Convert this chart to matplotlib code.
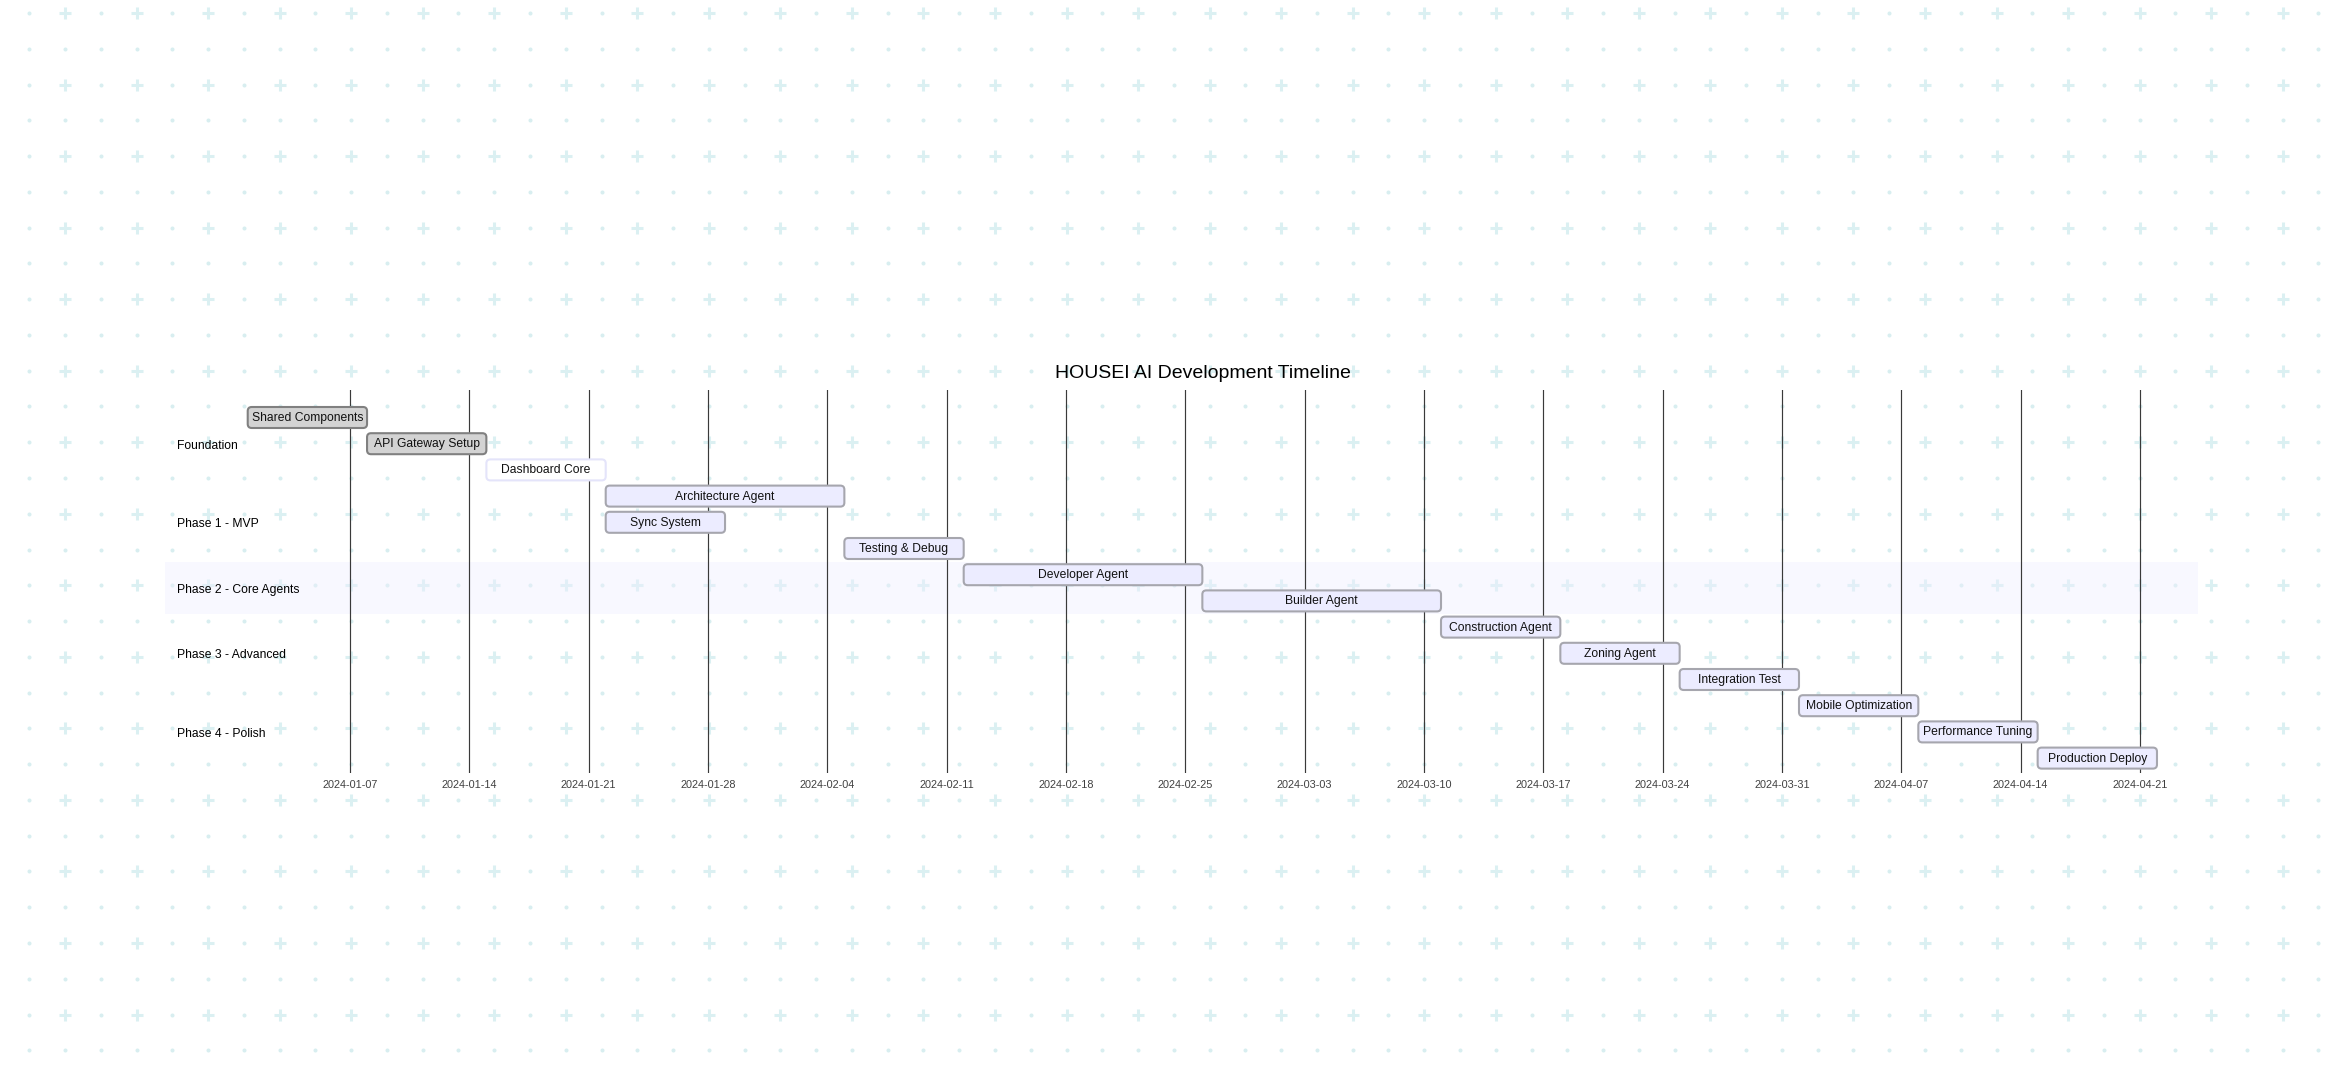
import numpy as np
import matplotlib
matplotlib.use("Agg")
import matplotlib.pyplot as plt
import matplotlib.dates as mdates
from matplotlib.patches import FancyBboxPatch
from matplotlib.transforms import blended_transform_factory
from datetime import datetime

plt.rcParams['font.family'] = ['Liberation Sans', 'DejaVu Sans']

# ---------------- data ----------------
title = "HOUSEI AI Development Timeline"
sections = ["Foundation", "Phase 1 - MVP", "Phase 2 - Core Agents",
            "Phase 3 - Advanced", "Phase 4 - Polish"]
task_names = ["Shared Components", "API Gateway Setup", "Dashboard Core",
              "Architecture Agent", "Sync System", "Testing & Debug",
              "Developer Agent", "Builder Agent",
              "Construction Agent", "Zoning Agent", "Integration Test",
              "Mobile Optimization", "Performance Tuning", "Production Deploy"]
task_section = [0, 0, 0, 1, 1, 1, 2, 2, 3, 3, 3, 4, 4, 4]
task_start = ["2024-01-01", "2024-01-08", "2024-01-15",
              "2024-01-22", "2024-01-22", "2024-02-05",
              "2024-02-12", "2024-02-26",
              "2024-03-11", "2024-03-18", "2024-03-25",
              "2024-04-01", "2024-04-08", "2024-04-15"]
task_days = [7, 7, 7, 14, 7, 7, 14, 14, 7, 7, 7, 7, 7, 7]
task_status = ["done", "done", "active", "", "", "", "", "", "", "", "", "", "", ""]
tick_labels = ["2024-01-07", "2024-01-14", "2024-01-21", "2024-01-28",
               "2024-02-04", "2024-02-11", "2024-02-18", "2024-02-25",
               "2024-03-03", "2024-03-10", "2024-03-17", "2024-03-24",
               "2024-03-31", "2024-04-07", "2024-04-14", "2024-04-21"]

# ---------------- layout ----------------
W, H, DPI = 2335, 1078, 100
PX_DAY = 17.047
ROW_PX = 26.2
ROW0_PX = 417.5
X0_PX = 350.0          # pixel of first tick
L, R, T, B = 165, 2198, 390, 773

def d2n(s):
    return mdates.date2num(datetime.fromisoformat(s))

fig = plt.figure(figsize=(W / DPI, H / DPI), dpi=DPI)
fig.patch.set_facecolor('white')

# background pattern
bg = fig.add_axes([0, 0, 1, 1], zorder=0)
bg.set_xlim(0, W)
bg.set_ylim(H, 0)
bg.axis('off')
step = 35.77
xs = 29.2 + step * np.arange(0, 66)
ys = 13.0 + step * np.arange(0, 31)
gx, gy = np.meshgrid(np.arange(len(xs)), np.arange(len(ys)))
is_plus = (gx % 2 == 1) & (gy % 2 == 0)
px_ = xs[gx]
py_ = ys[gy]
bg.plot(px_[~is_plus], py_[~is_plus], 'o', ms=2.9, mew=0, color='#d8eef0')
bg.plot(px_[is_plus], py_[is_plus], '+', ms=8.6, mew=2.2, color='#dbf0f2')

# main axes
ax = fig.add_axes([L / W, 1 - B / H, (R - L) / W, (B - T) / H], zorder=1)
ax.patch.set_alpha(0)
t0 = d2n(tick_labels[0])
ax.set_xlim(t0 - (X0_PX - L) / PX_DAY, t0 + (R - X0_PX) / PX_DAY)
ax.set_ylim((B - ROW0_PX) / ROW_PX, (T - ROW0_PX) / ROW_PX)
for s in ax.spines.values():
    s.set_visible(False)
ax.set_yticks([])
ticks = [d2n(t) for t in tick_labels]
ax.set_xticks(ticks)
ax.set_xticklabels(tick_labels, fontsize=7.8, color='#404040')
ax.tick_params(axis='x', length=0, pad=5)

# section band (Phase 2)
band_colors = ['none', 'none', '#eeeeff', 'none', 'none']
rows = np.arange(len(task_names))
for si, col in enumerate(band_colors):
    r = rows[np.array(task_section) == si]
    if col != 'none':
        ax.axhspan(r.min() - 0.5, r.max() + 0.5, color=col, alpha=0.4, lw=0, zorder=0.5)

# grid lines
for t in ticks:
    ax.axvline(t, color='#3a3a3a', lw=0.85, zorder=1)

# bars
bar_h = 21 / ROW_PX
rs = 4 / PX_DAY
ma = PX_DAY / ROW_PX
styles = {
    'done': ('#d3d3d3', '#808080'),
    'active': ('#ffffff', '#e4e4fa'),
    '': ('#ececff', '#a6a6ae'),
}
for i, (name, st, dd, stat) in enumerate(zip(task_names, task_start, task_days, task_status)):
    x = d2n(st)
    fc, ec = styles[stat]
    p = FancyBboxPatch((x, i - bar_h / 2), dd, bar_h,
                       boxstyle=f"round,pad=0,rounding_size={rs}",
                       mutation_aspect=ma, fc=fc, ec=ec, lw=1.5, zorder=3)
    ax.add_patch(p)
    ax.text(x + dd / 2, i + 0.02, name, ha='center', va='center', fontsize=8.7,
            color='#111111', zorder=4)

# section labels
tr = blended_transform_factory(ax.transAxes, ax.transData)
for si, sname in enumerate(sections):
    r = rows[np.array(task_section) == si]
    ax.text((176.7 - L) / (R - L), r.mean() + 0.08, sname, transform=tr,
            ha='left', va='center', fontsize=8.7, color='#000000', zorder=4)

fig.text(1203 / W, 1 - 378 / H, title, ha='center', va='baseline',
         fontsize=14, color='#000000')

fig.savefig("out.png", dpi=DPI, facecolor='white')
